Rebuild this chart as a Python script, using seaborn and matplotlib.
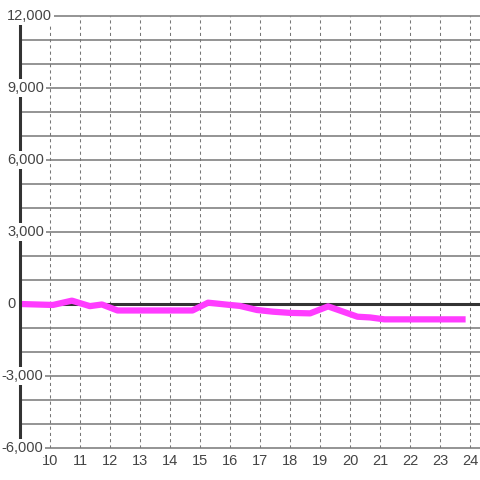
import matplotlib
matplotlib.use("Agg")
import matplotlib.pyplot as plt
import pandas as pd
import seaborn as sns

# ---------------------------------------------------------------------------
# Data
# ---------------------------------------------------------------------------

HOURS = [9.0, 10.1, 10.73, 11.33, 11.73, 12.25, 14.75, 15.27, 16.0, 16.33,
         16.9, 17.43, 18.0, 18.67, 19.27, 20.25, 20.67, 21.15, 23.75]
VALUES = [0, -40, 140, -90, -20, -270, -270, 55, -40, -80,
          -250, -320, -370, -390, -100, -530, -560, -640, -640]

X_TICKS = list(range(10, 25))
Y_TICKS = [-6000, -3000, 0, 3000, 6000, 9000, 12000]
Y_LABELS = ["-6,000", "-3,000", "0", "3,000", "6,000", "9,000", "12,000"]
Y_GRID = list(range(-6000, 12001, 1000))

LINE_COLOR = "#ff3cff"
GRID_COLOR = "#777777"
AXIS_COLOR = "#333333"
TEXT_COLOR = "#444444"

sns.set_style("white")
plt.rcParams["font.family"] = ["Liberation Sans", "DejaVu Sans"]

df = pd.DataFrame({"hour": HOURS, "value": VALUES})

fig = plt.figure(figsize=(4.8, 4.8), dpi=100)
ax = fig.add_axes([20 / 480, 32 / 480, 460 / 480, 432 / 480])
ax.set_xlim(9, 9 + 460 / 30)
ax.set_ylim(-6000, 12000)

# grid
for y in Y_GRID:
    ax.axhline(y, color=GRID_COLOR, lw=1.1, zorder=1, clip_on=False)
for x in X_TICKS:
    ax.axvline(x, color=GRID_COLOR, lw=0.75, linestyle=(0, (3, 3)), zorder=1)

# zero line
ax.axhline(0, color=AXIS_COLOR, lw=2.2, zorder=2)

sns.lineplot(data=df, x="hour", y="value", ax=ax, color=LINE_COLOR, lw=4.5,
             solid_capstyle="projecting", solid_joinstyle="round", zorder=3)

for s in ["top", "right", "bottom"]:
    ax.spines[s].set_visible(False)
ax.spines["left"].set_color(AXIS_COLOR)
ax.spines["left"].set_linewidth(2.2)
ax.spines["left"].set_zorder(4)

ax.set_xticks(X_TICKS)
ax.set_xticklabels([str(x) for x in X_TICKS])
ax.tick_params(axis="x", length=0, pad=4, labelsize=10.5, labelcolor=TEXT_COLOR)
ax.set_yticks([])
ax.set_xlabel("")
ax.set_ylabel("")

# y labels drawn over the axis line with a white background
for y, lab in zip(Y_TICKS, Y_LABELS):
    xpix = 1 if lab.startswith("-") else 7
    ax.text((xpix - 20) / 460, y, lab, transform=ax.get_yaxis_transform(),
            ha="left", va="center", fontsize=10.5, color=TEXT_COLOR, zorder=5,
            bbox=dict(boxstyle="square,pad=0.15", fc="white", ec="none"),
            clip_on=False)

fig.savefig("out.png", dpi=100)
